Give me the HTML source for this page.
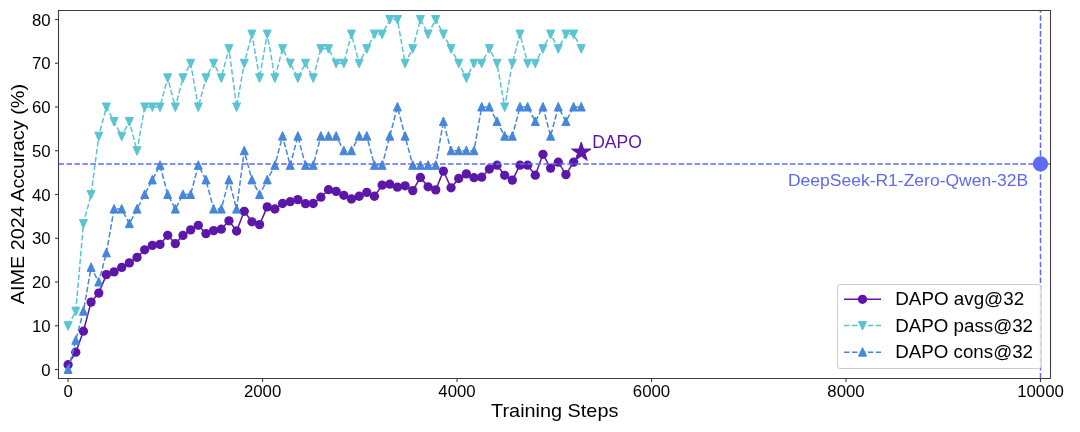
<!DOCTYPE html>
<html><head><meta charset="utf-8"><style>
html,body{margin:0;padding:0;background:#fff;}
body{width:1080px;height:432px;overflow:hidden;font-family:"Liberation Sans",sans-serif;}
svg{display:block;will-change:transform;}
</style></head><body>
<svg width="1080" height="432" viewBox="0 0 1080 432"><rect x="0" y="0" width="1080" height="432" fill="#ffffff"/><polyline points="68.10,364.70 75.76,352.20 83.42,331.20 91.08,302.10 98.74,293.10 106.39,274.60 114.05,271.90 121.71,267.40 129.37,262.90 137.03,257.40 144.69,249.80 152.35,245.40 160.01,244.40 167.67,235.30 175.33,243.60 182.98,235.40 190.64,229.90 198.30,225.30 205.96,233.60 213.62,230.60 221.28,229.20 228.94,220.80 236.60,231.00 244.26,211.30 251.92,221.80 259.57,224.60 267.23,206.90 274.89,209.00 282.55,203.50 290.21,201.70 297.87,199.60 305.53,203.70 313.19,203.50 320.85,197.20 328.51,189.70 336.16,191.40 343.82,195.30 351.48,199.00 359.14,196.25 366.80,192.40 374.46,196.25 382.12,185.10 389.78,184.20 397.44,187.20 405.10,185.80 412.75,190.60 420.41,177.50 428.07,186.80 435.73,189.90 443.39,171.10 451.05,187.80 458.71,178.50 466.37,173.90 474.03,177.70 481.69,177.20 489.35,169.00 497.00,165.20 504.66,175.30 512.32,180.10 519.98,165.20 527.64,165.20 535.30,175.20 542.96,154.30 550.62,168.10 558.28,162.20 565.93,174.60 573.59,162.20 581.25,152.20" fill="none" stroke="#5c17a8" stroke-width="1.5" stroke-linejoin="round"/><g fill="#5c17a8"><circle cx="68.10" cy="364.70" r="4.65"/><circle cx="75.76" cy="352.20" r="4.65"/><circle cx="83.42" cy="331.20" r="4.65"/><circle cx="91.08" cy="302.10" r="4.65"/><circle cx="98.74" cy="293.10" r="4.65"/><circle cx="106.39" cy="274.60" r="4.65"/><circle cx="114.05" cy="271.90" r="4.65"/><circle cx="121.71" cy="267.40" r="4.65"/><circle cx="129.37" cy="262.90" r="4.65"/><circle cx="137.03" cy="257.40" r="4.65"/><circle cx="144.69" cy="249.80" r="4.65"/><circle cx="152.35" cy="245.40" r="4.65"/><circle cx="160.01" cy="244.40" r="4.65"/><circle cx="167.67" cy="235.30" r="4.65"/><circle cx="175.33" cy="243.60" r="4.65"/><circle cx="182.98" cy="235.40" r="4.65"/><circle cx="190.64" cy="229.90" r="4.65"/><circle cx="198.30" cy="225.30" r="4.65"/><circle cx="205.96" cy="233.60" r="4.65"/><circle cx="213.62" cy="230.60" r="4.65"/><circle cx="221.28" cy="229.20" r="4.65"/><circle cx="228.94" cy="220.80" r="4.65"/><circle cx="236.60" cy="231.00" r="4.65"/><circle cx="244.26" cy="211.30" r="4.65"/><circle cx="251.92" cy="221.80" r="4.65"/><circle cx="259.57" cy="224.60" r="4.65"/><circle cx="267.23" cy="206.90" r="4.65"/><circle cx="274.89" cy="209.00" r="4.65"/><circle cx="282.55" cy="203.50" r="4.65"/><circle cx="290.21" cy="201.70" r="4.65"/><circle cx="297.87" cy="199.60" r="4.65"/><circle cx="305.53" cy="203.70" r="4.65"/><circle cx="313.19" cy="203.50" r="4.65"/><circle cx="320.85" cy="197.20" r="4.65"/><circle cx="328.51" cy="189.70" r="4.65"/><circle cx="336.16" cy="191.40" r="4.65"/><circle cx="343.82" cy="195.30" r="4.65"/><circle cx="351.48" cy="199.00" r="4.65"/><circle cx="359.14" cy="196.25" r="4.65"/><circle cx="366.80" cy="192.40" r="4.65"/><circle cx="374.46" cy="196.25" r="4.65"/><circle cx="382.12" cy="185.10" r="4.65"/><circle cx="389.78" cy="184.20" r="4.65"/><circle cx="397.44" cy="187.20" r="4.65"/><circle cx="405.10" cy="185.80" r="4.65"/><circle cx="412.75" cy="190.60" r="4.65"/><circle cx="420.41" cy="177.50" r="4.65"/><circle cx="428.07" cy="186.80" r="4.65"/><circle cx="435.73" cy="189.90" r="4.65"/><circle cx="443.39" cy="171.10" r="4.65"/><circle cx="451.05" cy="187.80" r="4.65"/><circle cx="458.71" cy="178.50" r="4.65"/><circle cx="466.37" cy="173.90" r="4.65"/><circle cx="474.03" cy="177.70" r="4.65"/><circle cx="481.69" cy="177.20" r="4.65"/><circle cx="489.35" cy="169.00" r="4.65"/><circle cx="497.00" cy="165.20" r="4.65"/><circle cx="504.66" cy="175.30" r="4.65"/><circle cx="512.32" cy="180.10" r="4.65"/><circle cx="519.98" cy="165.20" r="4.65"/><circle cx="527.64" cy="165.20" r="4.65"/><circle cx="535.30" cy="175.20" r="4.65"/><circle cx="542.96" cy="154.30" r="4.65"/><circle cx="550.62" cy="168.10" r="4.65"/><circle cx="558.28" cy="162.20" r="4.65"/><circle cx="565.93" cy="174.60" r="4.65"/><circle cx="573.59" cy="162.20" r="4.65"/></g><path d="M581.25,142.00L578.96,149.05L571.55,149.05L577.55,153.40L575.26,160.45L581.25,156.10L587.25,160.45L584.96,153.40L590.95,149.05L583.54,149.05Z" fill="#5c17a8" stroke="#5c17a8" stroke-width="1" stroke-linejoin="miter" stroke-miterlimit="10"/><polyline points="68.10,325.75 75.76,311.17 83.42,223.67 91.08,194.50 98.74,136.17 106.39,107.00 114.05,121.58 121.71,136.17 129.37,121.58 137.03,150.75 144.69,107.00 152.35,107.00 160.01,107.00 167.67,77.83 175.33,107.00 182.98,77.83 190.64,63.25 198.30,107.00 205.96,77.83 213.62,63.25 221.28,77.83 228.94,48.67 236.60,107.00 244.26,63.25 251.92,34.08 259.57,77.83 267.23,34.08 274.89,77.83 282.55,48.67 290.21,63.25 297.87,77.83 305.53,63.25 313.19,77.83 320.85,48.67 328.51,48.67 336.16,63.25 343.82,63.25 351.48,34.08 359.14,63.25 366.80,48.67 374.46,34.08 382.12,34.08 389.78,19.50 397.44,19.50 405.10,63.25 412.75,48.67 420.41,19.50 428.07,34.08 435.73,19.50 443.39,34.08 451.05,48.67 458.71,63.25 466.37,77.83 474.03,63.25 481.69,63.25 489.35,48.67 497.00,63.25 504.66,107.00 512.32,63.25 519.98,34.08 527.64,63.25 535.30,63.25 542.96,48.67 550.62,34.08 558.28,48.67 565.93,34.08 573.59,34.08 581.25,48.67" fill="none" stroke="#5ac4d2" stroke-width="1.5" stroke-dasharray="5.55 2.4" stroke-linejoin="round"/><path fill="#5ac4d2" stroke="#5ac4d2" stroke-width="1" stroke-linejoin="miter" d="M64.10,321.75L72.10,321.75L68.10,330.35ZM71.76,307.17L79.76,307.17L75.76,315.77ZM79.42,219.67L87.42,219.67L83.42,228.27ZM87.08,190.50L95.08,190.50L91.08,199.10ZM94.74,132.17L102.74,132.17L98.74,140.77ZM102.39,103.00L110.39,103.00L106.39,111.60ZM110.05,117.58L118.05,117.58L114.05,126.18ZM117.71,132.17L125.71,132.17L121.71,140.77ZM125.37,117.58L133.37,117.58L129.37,126.18ZM133.03,146.75L141.03,146.75L137.03,155.35ZM140.69,103.00L148.69,103.00L144.69,111.60ZM148.35,103.00L156.35,103.00L152.35,111.60ZM156.01,103.00L164.01,103.00L160.01,111.60ZM163.67,73.83L171.67,73.83L167.67,82.43ZM171.33,103.00L179.33,103.00L175.33,111.60ZM178.98,73.83L186.98,73.83L182.98,82.43ZM186.64,59.25L194.64,59.25L190.64,67.85ZM194.30,103.00L202.30,103.00L198.30,111.60ZM201.96,73.83L209.96,73.83L205.96,82.43ZM209.62,59.25L217.62,59.25L213.62,67.85ZM217.28,73.83L225.28,73.83L221.28,82.43ZM224.94,44.67L232.94,44.67L228.94,53.27ZM232.60,103.00L240.60,103.00L236.60,111.60ZM240.26,59.25L248.26,59.25L244.26,67.85ZM247.92,30.08L255.92,30.08L251.92,38.68ZM255.57,73.83L263.57,73.83L259.57,82.43ZM263.23,30.08L271.23,30.08L267.23,38.68ZM270.89,73.83L278.89,73.83L274.89,82.43ZM278.55,44.67L286.55,44.67L282.55,53.27ZM286.21,59.25L294.21,59.25L290.21,67.85ZM293.87,73.83L301.87,73.83L297.87,82.43ZM301.53,59.25L309.53,59.25L305.53,67.85ZM309.19,73.83L317.19,73.83L313.19,82.43ZM316.85,44.67L324.85,44.67L320.85,53.27ZM324.51,44.67L332.51,44.67L328.51,53.27ZM332.16,59.25L340.16,59.25L336.16,67.85ZM339.82,59.25L347.82,59.25L343.82,67.85ZM347.48,30.08L355.48,30.08L351.48,38.68ZM355.14,59.25L363.14,59.25L359.14,67.85ZM362.80,44.67L370.80,44.67L366.80,53.27ZM370.46,30.08L378.46,30.08L374.46,38.68ZM378.12,30.08L386.12,30.08L382.12,38.68ZM385.78,15.50L393.78,15.50L389.78,24.10ZM393.44,15.50L401.44,15.50L397.44,24.10ZM401.10,59.25L409.10,59.25L405.10,67.85ZM408.75,44.67L416.75,44.67L412.75,53.27ZM416.41,15.50L424.41,15.50L420.41,24.10ZM424.07,30.08L432.07,30.08L428.07,38.68ZM431.73,15.50L439.73,15.50L435.73,24.10ZM439.39,30.08L447.39,30.08L443.39,38.68ZM447.05,44.67L455.05,44.67L451.05,53.27ZM454.71,59.25L462.71,59.25L458.71,67.85ZM462.37,73.83L470.37,73.83L466.37,82.43ZM470.03,59.25L478.03,59.25L474.03,67.85ZM477.69,59.25L485.69,59.25L481.69,67.85ZM485.35,44.67L493.35,44.67L489.35,53.27ZM493.00,59.25L501.00,59.25L497.00,67.85ZM500.66,103.00L508.66,103.00L504.66,111.60ZM508.32,59.25L516.32,59.25L512.32,67.85ZM515.98,30.08L523.98,30.08L519.98,38.68ZM523.64,59.25L531.64,59.25L527.64,67.85ZM531.30,59.25L539.30,59.25L535.30,67.85ZM538.96,44.67L546.96,44.67L542.96,53.27ZM546.62,30.08L554.62,30.08L550.62,38.68ZM554.28,44.67L562.28,44.67L558.28,53.27ZM561.93,30.08L569.93,30.08L565.93,38.68ZM569.59,30.08L577.59,30.08L573.59,38.68ZM577.25,44.67L585.25,44.67L581.25,53.27Z"/><polyline points="68.10,369.50 75.76,340.33 83.42,311.17 91.08,267.42 98.74,282.00 106.39,252.83 114.05,209.08 121.71,209.08 129.37,223.67 137.03,209.08 144.69,194.50 152.35,179.92 160.01,165.33 167.67,194.50 175.33,209.08 182.98,194.50 190.64,194.50 198.30,165.33 205.96,179.92 213.62,209.08 221.28,209.08 228.94,179.92 236.60,209.08 244.26,150.75 251.92,179.92 259.57,194.50 267.23,179.92 274.89,165.33 282.55,136.17 290.21,165.33 297.87,136.17 305.53,165.33 313.19,165.33 320.85,136.17 328.51,136.17 336.16,136.17 343.82,150.75 351.48,150.75 359.14,136.17 366.80,136.17 374.46,165.33 382.12,165.33 389.78,136.17 397.44,107.00 405.10,136.17 412.75,165.33 420.41,165.33 428.07,165.33 435.73,165.33 443.39,121.58 451.05,150.75 458.71,150.75 466.37,150.75 474.03,150.75 481.69,107.00 489.35,107.00 497.00,121.58 504.66,136.17 512.32,136.17 519.98,107.00 527.64,107.00 535.30,121.58 542.96,107.00 550.62,136.17 558.28,107.00 565.93,121.58 573.59,107.00 581.25,107.00" fill="none" stroke="#4787da" stroke-width="1.5" stroke-dasharray="5.55 2.4" stroke-linejoin="round"/><path fill="#4787da" stroke="#4787da" stroke-width="1" stroke-linejoin="miter" d="M64.10,373.50L72.10,373.50L68.10,364.90ZM71.76,344.33L79.76,344.33L75.76,335.73ZM79.42,315.17L87.42,315.17L83.42,306.57ZM87.08,271.42L95.08,271.42L91.08,262.82ZM94.74,286.00L102.74,286.00L98.74,277.40ZM102.39,256.83L110.39,256.83L106.39,248.23ZM110.05,213.08L118.05,213.08L114.05,204.48ZM117.71,213.08L125.71,213.08L121.71,204.48ZM125.37,227.67L133.37,227.67L129.37,219.07ZM133.03,213.08L141.03,213.08L137.03,204.48ZM140.69,198.50L148.69,198.50L144.69,189.90ZM148.35,183.92L156.35,183.92L152.35,175.32ZM156.01,169.33L164.01,169.33L160.01,160.73ZM163.67,198.50L171.67,198.50L167.67,189.90ZM171.33,213.08L179.33,213.08L175.33,204.48ZM178.98,198.50L186.98,198.50L182.98,189.90ZM186.64,198.50L194.64,198.50L190.64,189.90ZM194.30,169.33L202.30,169.33L198.30,160.73ZM201.96,183.92L209.96,183.92L205.96,175.32ZM209.62,213.08L217.62,213.08L213.62,204.48ZM217.28,213.08L225.28,213.08L221.28,204.48ZM224.94,183.92L232.94,183.92L228.94,175.32ZM232.60,213.08L240.60,213.08L236.60,204.48ZM240.26,154.75L248.26,154.75L244.26,146.15ZM247.92,183.92L255.92,183.92L251.92,175.32ZM255.57,198.50L263.57,198.50L259.57,189.90ZM263.23,183.92L271.23,183.92L267.23,175.32ZM270.89,169.33L278.89,169.33L274.89,160.73ZM278.55,140.17L286.55,140.17L282.55,131.57ZM286.21,169.33L294.21,169.33L290.21,160.73ZM293.87,140.17L301.87,140.17L297.87,131.57ZM301.53,169.33L309.53,169.33L305.53,160.73ZM309.19,169.33L317.19,169.33L313.19,160.73ZM316.85,140.17L324.85,140.17L320.85,131.57ZM324.51,140.17L332.51,140.17L328.51,131.57ZM332.16,140.17L340.16,140.17L336.16,131.57ZM339.82,154.75L347.82,154.75L343.82,146.15ZM347.48,154.75L355.48,154.75L351.48,146.15ZM355.14,140.17L363.14,140.17L359.14,131.57ZM362.80,140.17L370.80,140.17L366.80,131.57ZM370.46,169.33L378.46,169.33L374.46,160.73ZM378.12,169.33L386.12,169.33L382.12,160.73ZM385.78,140.17L393.78,140.17L389.78,131.57ZM393.44,111.00L401.44,111.00L397.44,102.40ZM401.10,140.17L409.10,140.17L405.10,131.57ZM408.75,169.33L416.75,169.33L412.75,160.73ZM416.41,169.33L424.41,169.33L420.41,160.73ZM424.07,169.33L432.07,169.33L428.07,160.73ZM431.73,169.33L439.73,169.33L435.73,160.73ZM439.39,125.58L447.39,125.58L443.39,116.98ZM447.05,154.75L455.05,154.75L451.05,146.15ZM454.71,154.75L462.71,154.75L458.71,146.15ZM462.37,154.75L470.37,154.75L466.37,146.15ZM470.03,154.75L478.03,154.75L474.03,146.15ZM477.69,111.00L485.69,111.00L481.69,102.40ZM485.35,111.00L493.35,111.00L489.35,102.40ZM493.00,125.58L501.00,125.58L497.00,116.98ZM500.66,140.17L508.66,140.17L504.66,131.57ZM508.32,140.17L516.32,140.17L512.32,131.57ZM515.98,111.00L523.98,111.00L519.98,102.40ZM523.64,111.00L531.64,111.00L527.64,102.40ZM531.30,125.58L539.30,125.58L535.30,116.98ZM538.96,111.00L546.96,111.00L542.96,102.40ZM546.62,140.17L554.62,140.17L550.62,131.57ZM554.28,111.00L562.28,111.00L558.28,102.40ZM561.93,125.58L569.93,125.58L565.93,116.98ZM569.59,111.00L577.59,111.00L573.59,102.40ZM577.25,111.00L585.25,111.00L581.25,102.40Z"/><line x1="58.5" y1="163.9" x2="1050.5" y2="163.9" stroke="#5e6af0" stroke-opacity="1" stroke-width="1.5" stroke-dasharray="5.55 2.4"/><line x1="1040.5" y1="378.5" x2="1040.5" y2="10.5" stroke="#5e6af0" stroke-opacity="1" stroke-width="1.5" stroke-dasharray="5.55 2.4"/><circle cx="1040.5" cy="163.9" r="7.6" fill="#5e6af0"/><text x="592.2" y="147.9" font-family="Liberation Sans, sans-serif" font-size="18.5" fill="#5c17a8" textLength="49.6" lengthAdjust="spacingAndGlyphs">DAPO</text><text x="787.9" y="185.7" font-family="Liberation Sans, sans-serif" font-size="16.7" fill="#5e6af0" textLength="240.3" lengthAdjust="spacingAndGlyphs">DeepSeek-R1-Zero-Qwen-32B</text><rect x="837.5" y="284.5" width="203.5" height="84" rx="2.5" ry="2.5" fill="#ffffff" fill-opacity="0.8" stroke="#cccccc" stroke-width="1"/><line x1="844" y1="299.3" x2="881" y2="299.3" stroke="#5c17a8" stroke-width="1.5"/><circle cx="862.5" cy="299.3" r="4.65" fill="#5c17a8"/><line x1="844" y1="325.5" x2="881" y2="325.5" stroke="#5ac4d2" stroke-width="1.5" stroke-dasharray="5.55 2.4"/><path fill="#5ac4d2" stroke="#5ac4d2" stroke-width="1" d="M858.50,321.50L866.50,321.50L862.50,330.10Z"/><line x1="844" y1="352.2" x2="881" y2="352.2" stroke="#4787da" stroke-width="1.5" stroke-dasharray="5.55 2.4"/><path fill="#4787da" stroke="#4787da" stroke-width="1" d="M858.50,356.20L866.50,356.20L862.50,347.60Z"/><text x="895.3" y="305.4" font-family="Liberation Sans, sans-serif" font-size="18.9" fill="#000" textLength="128.8" lengthAdjust="spacingAndGlyphs">DAPO avg@32</text><text x="895.3" y="331.7" font-family="Liberation Sans, sans-serif" font-size="18.9" fill="#000" textLength="137.7" lengthAdjust="spacingAndGlyphs">DAPO pass@32</text><text x="895.3" y="357.8" font-family="Liberation Sans, sans-serif" font-size="18.9" fill="#000" textLength="137.7" lengthAdjust="spacingAndGlyphs">DAPO cons@32</text><path d="M58.5,10.5H1050.5V378.5H58.5Z" fill="none" stroke="#3d3d3d" stroke-width="1.1"/><line x1="55" y1="369.5" x2="58.5" y2="369.5" stroke="#3d3d3d" stroke-width="1.1"/><text x="41.27" y="375.50" font-family="Liberation Sans, sans-serif" font-size="16.3" fill="#000" textLength="9.33" lengthAdjust="spacingAndGlyphs">0</text><line x1="55" y1="325.75" x2="58.5" y2="325.75" stroke="#3d3d3d" stroke-width="1.1"/><text x="31.93" y="331.75" font-family="Liberation Sans, sans-serif" font-size="16.3" fill="#000" textLength="18.67" lengthAdjust="spacingAndGlyphs">10</text><line x1="55" y1="282.0" x2="58.5" y2="282.0" stroke="#3d3d3d" stroke-width="1.1"/><text x="31.93" y="288.00" font-family="Liberation Sans, sans-serif" font-size="16.3" fill="#000" textLength="18.67" lengthAdjust="spacingAndGlyphs">20</text><line x1="55" y1="238.25" x2="58.5" y2="238.25" stroke="#3d3d3d" stroke-width="1.1"/><text x="31.93" y="244.25" font-family="Liberation Sans, sans-serif" font-size="16.3" fill="#000" textLength="18.67" lengthAdjust="spacingAndGlyphs">30</text><line x1="55" y1="194.5" x2="58.5" y2="194.5" stroke="#3d3d3d" stroke-width="1.1"/><text x="31.93" y="200.50" font-family="Liberation Sans, sans-serif" font-size="16.3" fill="#000" textLength="18.67" lengthAdjust="spacingAndGlyphs">40</text><line x1="55" y1="150.75" x2="58.5" y2="150.75" stroke="#3d3d3d" stroke-width="1.1"/><text x="31.93" y="156.75" font-family="Liberation Sans, sans-serif" font-size="16.3" fill="#000" textLength="18.67" lengthAdjust="spacingAndGlyphs">50</text><line x1="55" y1="107.0" x2="58.5" y2="107.0" stroke="#3d3d3d" stroke-width="1.1"/><text x="31.93" y="113.00" font-family="Liberation Sans, sans-serif" font-size="16.3" fill="#000" textLength="18.67" lengthAdjust="spacingAndGlyphs">60</text><line x1="55" y1="63.25" x2="58.5" y2="63.25" stroke="#3d3d3d" stroke-width="1.1"/><text x="31.93" y="69.25" font-family="Liberation Sans, sans-serif" font-size="16.3" fill="#000" textLength="18.67" lengthAdjust="spacingAndGlyphs">70</text><line x1="55" y1="19.5" x2="58.5" y2="19.5" stroke="#3d3d3d" stroke-width="1.1"/><text x="31.93" y="25.50" font-family="Liberation Sans, sans-serif" font-size="16.3" fill="#000" textLength="18.67" lengthAdjust="spacingAndGlyphs">80</text><line x1="68.10" y1="378.5" x2="68.10" y2="382" stroke="#3d3d3d" stroke-width="1.1"/><text x="63.43" y="397.0" font-family="Liberation Sans, sans-serif" font-size="16.3" fill="#000" textLength="9.33" lengthAdjust="spacingAndGlyphs">0</text><line x1="262.58" y1="378.5" x2="262.58" y2="382" stroke="#3d3d3d" stroke-width="1.1"/><text x="243.91" y="397.0" font-family="Liberation Sans, sans-serif" font-size="16.3" fill="#000" textLength="37.34" lengthAdjust="spacingAndGlyphs">2000</text><line x1="457.06" y1="378.5" x2="457.06" y2="382" stroke="#3d3d3d" stroke-width="1.1"/><text x="438.39" y="397.0" font-family="Liberation Sans, sans-serif" font-size="16.3" fill="#000" textLength="37.34" lengthAdjust="spacingAndGlyphs">4000</text><line x1="651.54" y1="378.5" x2="651.54" y2="382" stroke="#3d3d3d" stroke-width="1.1"/><text x="632.87" y="397.0" font-family="Liberation Sans, sans-serif" font-size="16.3" fill="#000" textLength="37.34" lengthAdjust="spacingAndGlyphs">6000</text><line x1="846.02" y1="378.5" x2="846.02" y2="382" stroke="#3d3d3d" stroke-width="1.1"/><text x="827.35" y="397.0" font-family="Liberation Sans, sans-serif" font-size="16.3" fill="#000" textLength="37.34" lengthAdjust="spacingAndGlyphs">8000</text><line x1="1040.50" y1="378.5" x2="1040.50" y2="382" stroke="#3d3d3d" stroke-width="1.1"/><text x="1017.16" y="397.0" font-family="Liberation Sans, sans-serif" font-size="16.3" fill="#000" textLength="46.67" lengthAdjust="spacingAndGlyphs">10000</text><text x="491.1" y="417.2" font-family="Liberation Sans, sans-serif" font-size="19" fill="#000" textLength="127.3" lengthAdjust="spacingAndGlyphs">Training Steps</text><text transform="translate(24,304.3) rotate(-90)" x="0" y="0" font-family="Liberation Sans, sans-serif" font-size="19" fill="#000" textLength="220.3" lengthAdjust="spacingAndGlyphs">AIME 2024 Accuracy (%)</text></svg>
</body></html>
